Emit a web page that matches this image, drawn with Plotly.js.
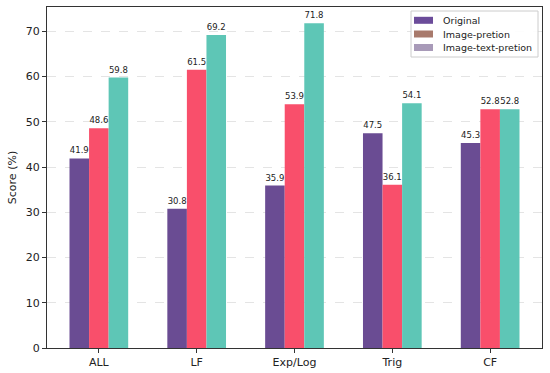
<!DOCTYPE html>
<html>
<head>
<meta charset="utf-8">
<script src="https://cdn.plot.ly/plotly-3.0.1.min.js"></script>
<style>html,body{margin:0;padding:0;background:#fff;}#chart{width:550px;height:373px;}</style>
</head>
<body>
<div id="chart"></div>
<script>
const categories = ["ALL", "LF", "Exp/Log", "Trig", "CF"];
const seriesNames = ["Original", "Image-pretion", "Image-text-pretion"];
const original = [41.9, 30.8, 35.9, 47.5, 45.3];
const imagePretion = [48.6, 61.5, 53.9, 36.1, 52.8];
const imageTextPretion = [59.8, 69.2, 71.8, 54.1, 52.8];
const yTicks = [0, 10, 20, 30, 40, 50, 60, 70];

const barColors = ["#6a4c93", "#f94f6b", "#5ec6b6"];
const legendColors = ["#6b4c9a", "#a87a6c", "#a89ab8"];
const seriesValues = [original, imagePretion, imageTextPretion];
const xIdx = categories.map((c, i) => i);

const W = 550, H = 373;
const M = {l: 47, r: 8, t: 7, b: 25};
const PW = W - M.l - M.r, PH = H - M.t - M.b;
const px = X => (X - M.l) / PW;
const py = Y => (H - M.b - Y) / PH;

const font = "DejaVu Sans, sans-serif";
const traces = seriesValues.map((vals, k) => ({
  type: "bar",
  x: xIdx,
  y: vals,
  name: seriesNames[k],
  showlegend: false,
  marker: {color: barColors[k], line: {width: 0}},
  text: vals.map(v => v.toFixed(1)),
  textposition: "outside",
  textfont: {family: font, size: 8.5, color: "#222"},
  cliponaxis: false,
  hoverinfo: "none"
}));

// Legend drawn as layout shapes/annotations (matplotlib-like compact legend)
const shapes = [{
  type: "rect", xref: "paper", yref: "paper",
  x0: px(411), x1: px(538), y0: py(11), y1: py(57),
  fillcolor: "rgba(255,255,255,0.9)", line: {color: "#cccccc", width: 1}, layer: "above"
}];
const annotations = [];
const rowY = [20.3, 34, 47.5];
seriesNames.forEach((n, k) => {
  shapes.push({
    type: "rect", xref: "paper", yref: "paper",
    x0: px(414), x1: px(433), y0: py(rowY[k] - 3.5), y1: py(rowY[k] + 3.5),
    fillcolor: legendColors[k], line: {width: 0}, layer: "above"
  });
  annotations.push({
    xref: "paper", yref: "paper", x: px(441), y: py(rowY[k]),
    xanchor: "left", yanchor: "middle", text: n, showarrow: false,
    font: {family: font, size: 9.5, color: "#222"}
  });
});

const layout = {
  width: W, height: H,
  margin: M,
  paper_bgcolor: "#fff", plot_bgcolor: "#fff",
  barmode: "group", bargap: 0.4, bargroupgap: 0,
  font: {family: font, size: 11, color: "#222"},
  showlegend: false,
  shapes: shapes,
  annotations: annotations,
  xaxis: {
    range: [-0.53, 4.53],
    tickmode: "array", tickvals: xIdx, ticktext: categories,
    ticks: "outside", ticklen: 4, tickcolor: "#333",
    showline: true, linecolor: "#333", linewidth: 1, mirror: true,
    showgrid: false, zeroline: false,
    tickfont: {family: font, size: 11, color: "#222"}
  },
  yaxis: {
    range: [0, 75.39],
    tickmode: "array", tickvals: yTicks,
    ticks: "outside", ticklen: 4, tickcolor: "#333",
    showline: true, linecolor: "#333", linewidth: 1, mirror: true,
    showgrid: true, gridcolor: "#dddddd", griddash: "dash", gridwidth: 0.8,
    zeroline: false,
    tickfont: {family: font, size: 11, color: "#222"},
    title: {text: "Score (%)", font: {family: font, size: 11, color: "#222"}, standoff: 6}
  }
};

Plotly.newPlot("chart", traces, layout, {staticPlot: true, displayModeBar: false});
</script>
</body>
</html>
